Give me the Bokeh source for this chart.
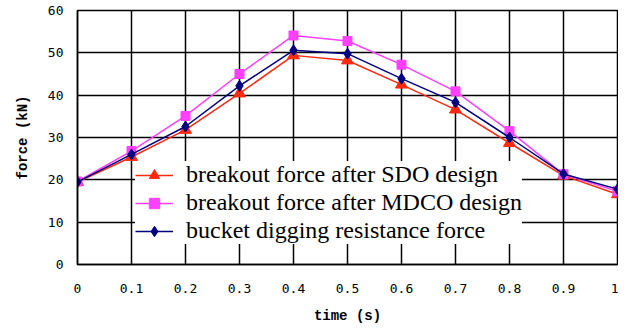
from bokeh.plotting import figure
from bokeh.models import FixedTicker, Legend, LegendItem
from bokeh.embed import file_html
from bokeh.resources import INLINE

t = [0.0, 0.1, 0.2, 0.3, 0.4, 0.5, 0.6, 0.7, 0.8, 0.9, 1.0]
sdo = [19.5, 25.4, 31.8, 40.4, 49.4, 48.2, 42.5, 36.6, 28.7, 21.0, 16.6]
mdco = [19.6, 26.8, 35.1, 45.0, 54.1, 52.8, 47.2, 40.9, 31.5, 21.3, 17.3]
bucket = [19.5, 26.0, 32.6, 42.2, 50.6, 49.8, 43.9, 38.3, 30.0, 21.4, 17.8]

x_ticks = [0, 0.1, 0.2, 0.3, 0.4, 0.5, 0.6, 0.7, 0.8, 0.9, 1.0]
x_labels = ["0", "0.1", "0.2", "0.3", "0.4", "0.5", "0.6", "0.7", "0.8", "0.9", "1"]
y_ticks = [0, 10, 20, 30, 40, 50, 60]

labels = ["breakout force after SDO design",
          "breakout force after MDCO design",
          "bucket digging resistance force"]

p = figure(width=618, height=328, output_backend="svg", toolbar_location=None,
           x_range=(0, 1), y_range=(0, 60),
           min_border_left=77, min_border_right=1, min_border_top=10, min_border_bottom=64)

p.outline_line_color = "black"
p.outline_line_width = 1.5
p.background_fill_color = "white"
p.border_fill_color = "white"

for g in (p.xgrid, p.ygrid):
    g.grid_line_color = "black"
    g.grid_line_width = 1.5
p.xgrid.ticker = FixedTicker(ticks=x_ticks)
p.ygrid.ticker = FixedTicker(ticks=y_ticks)

mono = "DejaVu Sans Mono"
xa = p.xaxis[0]
xa.ticker = FixedTicker(ticks=x_ticks)
xa.major_label_overrides = {v: s for v, s in zip(x_ticks, x_labels)}
xa.axis_label = "time (s)"
ya = p.yaxis[0]
ya.ticker = FixedTicker(ticks=y_ticks)
ya.axis_label = "force (kN)"
for a in (xa, ya):
    a.axis_line_color = "black"
    a.axis_line_width = 1.5
    a.major_tick_out = 0
    a.major_tick_in = 0
    a.minor_tick_out = 0
    a.minor_tick_in = 0
    a.major_label_text_font = mono
    a.major_label_text_font_size = "13px"
    a.major_label_text_color = "black"
    a.axis_label_text_font = "Liberation Mono"
    a.axis_label_text_font_size = "14px"
    a.axis_label_text_font_style = "bold"
    a.axis_label_text_color = "black"
xa.major_label_standoff = 19
xa.axis_label_standoff = 12
ya.major_label_standoff = 14
ya.axis_label_standoff = 14

red = "#ff2a10"
mag = "#ff40ff"
navy = "#000080"

l1 = p.line(t, sdo, line_color=red, line_width=1.5)
m1 = p.scatter(t, sdo, marker="triangle", size=12, fill_color=red, line_color=red)
l2 = p.line(t, mdco, line_color=mag, line_width=1.5)
m2 = p.scatter(t, mdco, marker="square", size=9, fill_color=mag, line_color=mag)
l3 = p.line(t, bucket, line_color=navy, line_width=1.5)
m3 = p.scatter(t, bucket, marker="diamond", size=11, fill_color=navy, line_color=navy)

legend = Legend(items=[LegendItem(label=labels[0], renderers=[l1, m1]),
                       LegendItem(label=labels[1], renderers=[l2, m2]),
                       LegendItem(label=labels[2], renderers=[l3, m3])],
                location=(58, 20))
legend.border_line_color = None
legend.background_fill_color = "white"
legend.background_fill_alpha = 1.0
legend.padding = 5
legend.spacing = 1
legend.margin = 0
legend.glyph_width = 38
legend.glyph_height = 26
legend.label_height = 26
legend.label_standoff = 13
legend.label_text_font = "Liberation Serif"
legend.label_text_font_size = "24px"
legend.label_text_color = "black"
p.add_layout(legend, "center")

open("out.html", "w").write(file_html(p, INLINE))
